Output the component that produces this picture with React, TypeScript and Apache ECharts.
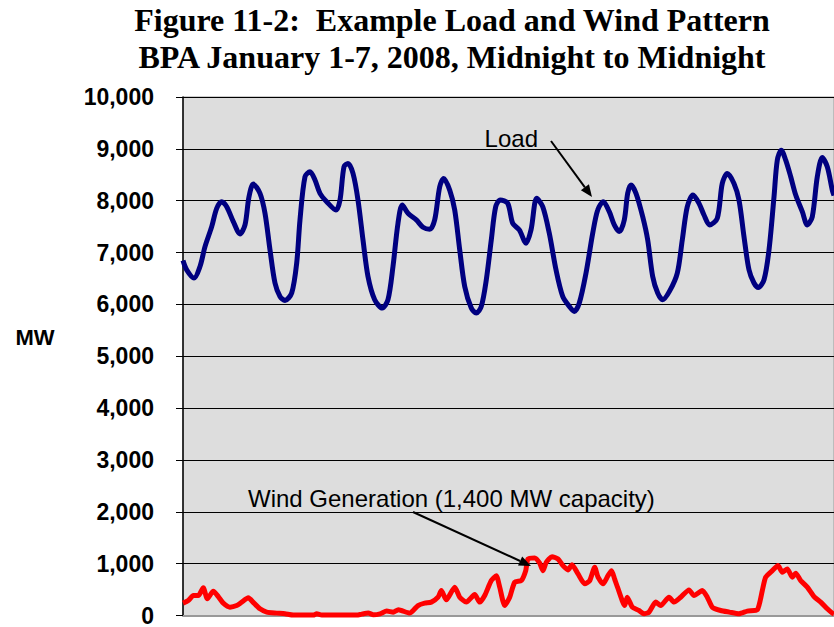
import React, { useEffect, useRef } from "react";
import * as echarts from "echarts";

// Hours from midnight January 1 (0..168) and MW readings
const loadHours = [0, 0.95, 2.84, 4.39, 5.68, 7.41, 8.7, 9.99, 11.28, 12.98, 14.71, 16.0, 17.03, 18.14, 19.87, 21.16, 22.45, 23.74, 25.03, 26.32, 28.05, 29.34, 30.19, 31.48, 32.77, 34.06, 35.35, 37.08, 39.48, 40.52, 41.55, 42.58, 43.87, 45.16, 46.45, 47.74, 49.47, 51.43, 52.9, 54.19, 55.48, 56.59, 58.06, 60.21, 61.94, 63.66, 64.95, 66.25, 67.28, 68.83, 70.12, 71.41, 72.7, 74.4, 75.69, 76.98, 78.27, 79.56, 80.7, 81.88, 83.79, 85.08, 86.79, 88.52, 89.81, 91.28, 92.83, 94.53, 96.26, 97.99, 99.7, 100.98, 102.27, 104.0, 105.73, 107.02, 108.46, 110.01, 111.3, 112.59, 113.88, 114.76, 115.61, 116.9, 118.63, 119.92, 121.21, 122.5, 123.79, 125.6, 127.56, 128.85, 130.14, 131.61, 133.16, 134.45, 135.92, 137.88, 139.17, 140.46, 142.19, 143.48, 144.77, 146.06, 147.35, 148.46, 149.94, 151.23, 152.52, 153.37, 154.4, 155.54, 156.83, 158.12, 159.82, 161.11, 162.4, 163.69, 164.98, 166.27, 167.56, 168];
const loadMW = [6846, 6667, 6508, 6731, 7115, 7500, 7853, 7981, 7885, 7596, 7360, 7533, 8077, 8321, 8142, 7758, 7052, 6412, 6154, 6077, 6219, 6796, 7629, 8462, 8558, 8398, 8142, 7981, 7821, 8013, 8654, 8719, 8526, 8013, 7244, 6538, 6090, 5930, 6090, 6731, 7565, 7917, 7758, 7629, 7488, 7449, 7629, 8269, 8430, 8205, 7821, 7052, 6346, 5930, 5834, 5962, 6475, 7244, 7885, 8013, 7950, 7565, 7436, 7180, 7436, 8045, 7885, 7372, 6667, 6154, 5962, 5865, 6026, 6603, 7372, 7821, 7981, 7788, 7533, 7404, 7629, 8142, 8302, 8142, 7692, 7244, 6538, 6219, 6090, 6260, 6603, 7244, 7885, 8109, 7949, 7724, 7533, 7661, 8334, 8526, 8334, 8013, 7308, 6667, 6412, 6327, 6475, 7052, 8077, 8782, 8975, 8782, 8462, 8109, 7788, 7533, 7692, 8462, 8834, 8654, 8205, 8100];

const windHours = [0, 1.37, 2.66, 3.95, 5.24, 6.27, 7.82, 9.11, 10.4, 12.13, 13.86, 15.15, 16.85, 18.32, 19.87, 21.6, 24.18, 26.32, 28.46, 33.63, 34.5, 35.79, 44.83, 46.12, 47.82, 49.11, 50.84, 52.57, 54.27, 55.56, 58.5, 60.65, 62.37, 64.08, 65.81, 66.66, 67.95, 70.12, 71.41, 73.11, 75.28, 76.57, 77.86, 79.56, 80.85, 81.73, 83.02, 84.31, 85.6, 87.3, 88.44, 89.03, 90.76, 92.05, 92.9, 93.75, 95.23, 96.77, 98.06, 99.35, 100.39, 101.94, 103.66, 104.96, 106.25, 107.1, 108.39, 109.68, 110.6, 111.4, 112.13, 114.0, 114.63, 115.95, 117.68, 118.97, 120.26, 121.99, 123.28, 125.42, 126.71, 128.44, 130.58, 131.87, 134.01, 135.3, 136.59, 138.76, 141.0, 143.48, 145.63, 148.21, 149.5, 150.37, 152.08, 153.55, 154.66, 155.95, 157.24, 158.12, 159.41, 161.11, 162.84, 164.57, 166.27, 167.56, 168];
const windMW = [238, 288, 385, 385, 533, 321, 469, 365, 238, 161, 192, 258, 340, 238, 129, 65, 46, 33, 8, 8, 33, 8, 8, 27, 46, 15, 33, 85, 65, 110, 46, 192, 238, 258, 353, 481, 302, 546, 353, 258, 404, 258, 385, 673, 769, 546, 192, 353, 642, 673, 865, 1090, 1110, 1008, 865, 1027, 1135, 1090, 962, 879, 981, 802, 610, 673, 931, 738, 610, 769, 865, 700, 546, 192, 353, 161, 96, 33, 65, 258, 192, 353, 258, 353, 494, 385, 481, 353, 161, 96, 65, 33, 85, 110, 481, 738, 865, 962, 835, 898, 738, 815, 673, 546, 365, 258, 129, 46, 30];

const yTicks = [0, 1000, 2000, 3000, 4000, 5000, 6000, 7000, 8000, 9000, 10000];

const titleLines = [
  "Figure 11-2:  Example Load and Wind Pattern",
  "BPA January 1-7, 2008, Midnight to Midnight",
];

function arrow(x1: number, y1: number, x2: number, y2: number) {
  const dx = x2 - x1;
  const dy = y2 - y1;
  const len = Math.sqrt(dx * dx + dy * dy);
  const ux = dx / len;
  const uy = dy / len;
  const hl = 12;
  const hw = 5;
  const bx = x2 - ux * hl;
  const by = y2 - uy * hl;
  return [
    {
      type: "line",
      shape: { x1, y1, x2: bx, y2: by },
      style: { stroke: "#000", lineWidth: 2 },
      z: 100,
    },
    {
      type: "polygon",
      shape: {
        points: [
          [x2, y2],
          [bx - uy * hw, by + ux * hw],
          [bx + uy * hw, by - ux * hw],
        ],
      },
      style: { fill: "#000" },
      z: 100,
    },
  ];
}

export default function App() {
  const ref = useRef<HTMLDivElement>(null);
  useEffect(() => {
    if (!ref.current) return;
    const chart = echarts.init(ref.current, null, { renderer: "svg" });
    const sans = '"Liberation Sans", Arial, Helvetica, sans-serif';
    const serif = '"Liberation Serif", "Times New Roman", serif';
    chart.setOption({
      animation: false,
      backgroundColor: "#ffffff",
      grid: {
        left: 183,
        top: 97,
        right: 0,
        bottom: 10,
        show: true,
        backgroundColor: "#DDDDDD",
        borderColor: "#9a9a9a",
        borderWidth: 1,
      },
      xAxis: {
        type: "value",
        min: 0,
        max: 168,
        axisLine: { show: true, lineStyle: { color: "#999999", width: 2 } },
        axisTick: { show: false },
        axisLabel: { show: false },
        splitLine: { show: false },
      },
      yAxis: {
        type: "value",
        min: yTicks[0],
        max: yTicks[yTicks.length - 1],
        interval: 1000,
        axisLine: { show: true, onZero: false, lineStyle: { color: "#000", width: 1.5 } },
        axisTick: { show: true, length: 7, inside: false, lineStyle: { color: "#000" } },
        axisLabel: {
          margin: 29,
          color: "#000",
          fontFamily: sans,
          fontWeight: "bold",
          fontSize: 23,
          formatter: (v: number) => v.toLocaleString("en-US"),
        },
        splitLine: { show: true, lineStyle: { color: "#000", width: 1 } },
      },
      series: [
        {
          type: "line",
          name: "Load",
          data: loadHours.map((h, i) => [h, loadMW[i]]),
          showSymbol: false,
          smooth: 0.3,
          lineStyle: { color: "#000080", width: 5 },
          itemStyle: { color: "#000080" },
          z: 3,
        },
        {
          type: "line",
          name: "Wind",
          data: windHours.map((h, i) => [h, windMW[i]]),
          showSymbol: false,
          smooth: 0.2,
          lineStyle: { color: "#FF0000", width: 5 },
          itemStyle: { color: "#FF0000" },
          z: 3,
        },
      ],
      graphic: [
        {
          type: "text",
          x: 452,
          y: 20,
          style: {
            text: titleLines[0],
            font: `bold 32px ${serif}`,
            fill: "#000",
            textAlign: "center",
            textVerticalAlign: "middle",
          },
        },
        {
          type: "text",
          x: 452,
          y: 57,
          style: {
            text: titleLines[1],
            font: `bold 32px ${serif}`,
            fill: "#000",
            textAlign: "center",
            textVerticalAlign: "middle",
          },
        },
        {
          type: "text",
          x: 35,
          y: 337,
          style: {
            text: "MW",
            font: `bold 22px ${sans}`,
            fill: "#000",
            textAlign: "center",
            textVerticalAlign: "middle",
          },
        },
        {
          type: "text",
          x: 538,
          y: 138,
          z: 100,
          style: {
            text: "Load",
            font: `24px ${sans}`,
            fill: "#000",
            textAlign: "right",
            textVerticalAlign: "middle",
          },
        },
        {
          type: "text",
          x: 248,
          y: 498,
          z: 100,
          style: {
            text: "Wind Generation (1,400 MW capacity)",
            font: `24px ${sans}`,
            fill: "#000",
            textAlign: "left",
            textVerticalAlign: "middle",
          },
        },
        ...arrow(551, 141, 592, 197),
        ...arrow(413, 512, 531, 566),
      ],
    });
    return () => chart.dispose();
  }, []);
  return (
    <div
      ref={ref}
      style={{ position: "fixed", left: 0, top: 0, width: 834, height: 627 }}
    />
  );
}
